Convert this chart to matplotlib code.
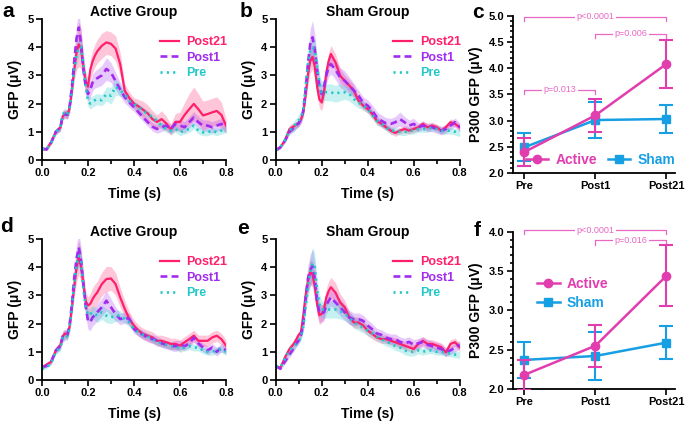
import numpy as np
import matplotlib
matplotlib.use('Agg')
import matplotlib.pyplot as plt
from matplotlib.ticker import MultipleLocator
from matplotlib.lines import Line2D

plt.rcParams['font.family'] = ['Liberation Sans', 'DejaVu Sans']
plt.rcParams['font.weight'] = 'bold'
plt.rcParams['axes.labelweight'] = 'bold'

# ---------------- data ----------------
time_s = [0.00, 0.02, 0.04, 0.06, 0.08, 0.09, 0.10, 0.11, 0.12, 0.13, 0.14, 0.15, 0.16, 0.17,
          0.18, 0.19, 0.20, 0.21, 0.22, 0.23, 0.24, 0.26, 0.28, 0.30, 0.32, 0.34, 0.36, 0.38,
          0.40, 0.42, 0.44, 0.46, 0.48, 0.50, 0.52, 0.54, 0.56, 0.58, 0.60, 0.62, 0.64, 0.66,
          0.68, 0.70, 0.72, 0.74, 0.76, 0.78, 0.80]

# Panel a : Active group (first measure)
a_post21 = [0.40, 0.38, 0.65, 1.00, 1.15, 1.55, 1.65, 1.60, 1.85, 2.50, 3.20, 3.80, 4.10, 3.95,
            3.30, 2.80, 2.60, 3.20, 3.50, 3.70, 3.85, 4.05, 4.17, 4.12, 3.95, 3.40, 2.45, 2.20,
            2.00, 1.90, 1.78, 1.65, 1.45, 1.35, 1.45, 1.30, 1.08, 1.35, 1.35, 1.60, 1.80, 1.99,
            1.80, 1.58, 1.63, 1.69, 1.74, 1.60, 1.22]
a_post21_sem = [0.05, 0.05, 0.08, 0.10, 0.12, 0.15, 0.15, 0.15, 0.20, 0.30, 0.40, 0.60, 0.80, 0.70,
                0.50, 0.35, 0.30, 0.35, 0.40, 0.40, 0.42, 0.45, 0.42, 0.42, 0.45, 0.40, 0.25, 0.20,
                0.20, 0.25, 0.30, 0.30, 0.30, 0.25, 0.30, 0.25, 0.20, 0.30, 0.35, 0.45, 0.55, 0.60,
                0.55, 0.50, 0.50, 0.50, 0.50, 0.45, 0.25]
a_post1 = [0.40, 0.38, 0.62, 1.00, 1.15, 1.60, 1.62, 1.60, 1.90, 2.60, 3.50, 4.30, 4.70, 4.10,
           3.20, 2.60, 2.34, 2.50, 2.75, 2.85, 2.90, 3.00, 3.23, 3.10, 2.80, 2.50, 2.22, 2.04,
           1.87, 1.69, 1.51, 1.34, 1.18, 1.10, 1.16, 1.22, 1.10, 1.28, 1.22, 1.16, 1.34, 1.51,
           1.34, 1.22, 1.22, 1.16, 1.22, 1.28, 1.16]
a_post1_sem = [0.04, 0.05, 0.07, 0.10, 0.12, 0.15, 0.15, 0.15, 0.20, 0.30, 0.40, 0.50, 0.55, 0.50,
               0.40, 0.30, 0.25, 0.30, 0.30, 0.30, 0.32, 0.35, 0.40, 0.35, 0.30, 0.25, 0.20, 0.18,
               0.15, 0.15, 0.15, 0.15, 0.15, 0.15, 0.15, 0.15, 0.15, 0.15, 0.20, 0.20, 0.20, 0.20,
               0.20, 0.20, 0.20, 0.20, 0.20, 0.20, 0.20]
a_pre = [0.40, 0.38, 0.62, 1.00, 1.15, 1.62, 1.70, 1.62, 1.85, 2.50, 3.20, 3.70, 4.00, 4.00,
         3.40, 2.60, 2.10, 2.00, 2.08, 2.12, 2.16, 2.12, 2.34, 2.28, 2.60, 2.46, 2.34, 2.10,
         1.99, 1.87, 1.75, 1.63, 1.51, 1.39, 1.22, 1.10, 1.04, 1.10, 0.98, 1.04, 1.10, 1.22,
         1.04, 0.98, 0.98, 1.04, 0.98, 1.04, 1.08]
a_pre_sem = [0.04, 0.05, 0.07, 0.10, 0.12, 0.15, 0.15, 0.15, 0.20, 0.25, 0.30, 0.35, 0.35, 0.35,
             0.30, 0.25, 0.20, 0.20, 0.20, 0.20, 0.20, 0.20, 0.25, 0.30, 0.30, 0.20, 0.15, 0.12,
             0.12, 0.12, 0.12, 0.12, 0.12, 0.12, 0.12, 0.12, 0.12, 0.12, 0.12, 0.12, 0.12, 0.12,
             0.12, 0.12, 0.12, 0.12, 0.12, 0.12, 0.12]

# Panel b : Sham group (first measure)
b_post21 = [0.35, 0.45, 0.70, 1.10, 1.20, 1.25, 1.30, 1.45, 1.70, 2.30, 3.00, 3.50, 3.66, 3.30,
            2.60, 2.15, 2.04, 2.40, 3.10, 3.50, 3.76, 3.46, 2.99, 2.81, 2.64, 2.46, 2.10, 1.93,
            1.81, 1.63, 1.39, 1.28, 1.16, 1.04, 0.96, 1.04, 1.10, 1.04, 1.10, 1.16, 1.28, 1.16,
            1.22, 1.16, 1.04, 1.16, 1.34, 1.28, 1.16]
b_post21_sem = [0.04, 0.05, 0.08, 0.15, 0.12, 0.12, 0.12, 0.15, 0.20, 0.30, 0.35, 0.40, 0.45, 0.40,
                0.35, 0.30, 0.30, 0.30, 0.30, 0.30, 0.30, 0.30, 0.25, 0.20, 0.20, 0.20, 0.15, 0.15,
                0.15, 0.15, 0.15, 0.12, 0.12, 0.12, 0.12, 0.12, 0.12, 0.12, 0.12, 0.12, 0.12, 0.12,
                0.12, 0.12, 0.12, 0.12, 0.12, 0.12, 0.12]
b_post1 = [0.35, 0.45, 0.68, 1.00, 1.15, 1.25, 1.30, 1.45, 1.75, 2.50, 3.40, 4.10, 4.35, 3.90,
           3.20, 2.60, 2.34, 2.60, 3.00, 3.30, 3.40, 3.20, 2.93, 2.81, 2.64, 2.46, 2.28, 2.04,
           1.93, 1.75, 1.51, 1.39, 1.30, 1.28, 1.34, 1.45, 1.34, 1.22, 1.28, 1.16, 1.22, 1.16,
           1.16, 1.10, 1.04, 1.10, 1.22, 1.34, 1.16]
b_post1_sem = [0.04, 0.05, 0.08, 0.10, 0.12, 0.12, 0.12, 0.15, 0.20, 0.30, 0.40, 0.55, 0.60, 0.55,
               0.45, 0.35, 0.30, 0.30, 0.30, 0.35, 0.35, 0.35, 0.35, 0.35, 0.30, 0.25, 0.20, 0.20,
               0.20, 0.20, 0.20, 0.20, 0.20, 0.20, 0.20, 0.25, 0.20, 0.20, 0.20, 0.15, 0.15, 0.15,
               0.15, 0.15, 0.15, 0.15, 0.15, 0.15, 0.15]
b_pre = [0.35, 0.45, 0.70, 1.05, 1.20, 1.30, 1.40, 1.50, 1.80, 2.60, 3.40, 3.85, 4.00, 3.90,
         3.30, 2.70, 2.40, 2.46, 2.40, 2.40, 2.40, 2.35, 2.40, 2.40, 2.34, 2.16, 2.04, 1.93,
         1.81, 1.60, 1.40, 1.28, 1.16, 1.04, 1.04, 1.00, 0.98, 1.04, 1.04, 1.10, 1.10, 1.10,
         1.16, 1.10, 1.04, 1.04, 1.04, 1.00, 0.95]
b_pre_sem = [0.04, 0.05, 0.08, 0.12, 0.20, 0.20, 0.20, 0.15, 0.20, 0.30, 0.35, 0.40, 0.40, 0.40,
             0.35, 0.35, 0.40, 0.35, 0.30, 0.30, 0.30, 0.30, 0.30, 0.25, 0.25, 0.20, 0.20, 0.15,
             0.15, 0.15, 0.15, 0.12, 0.12, 0.12, 0.12, 0.12, 0.12, 0.12, 0.12, 0.12, 0.12, 0.12,
             0.12, 0.12, 0.12, 0.12, 0.12, 0.12, 0.12]

# Panel d : Active group (second measure)
d_post21 = [0.45, 0.55, 0.65, 1.05, 1.25, 1.55, 1.65, 1.60, 1.90, 2.60, 3.30, 4.00, 4.35, 4.00,
            3.40, 2.80, 2.64, 2.70, 2.87, 3.00, 3.10, 3.40, 3.58, 3.60, 3.40, 2.93, 2.52, 2.16,
            1.93, 1.75, 1.63, 1.57, 1.51, 1.39, 1.39, 1.34, 1.28, 1.28, 1.22, 1.34, 1.45, 1.57,
            1.39, 1.39, 1.39, 1.51, 1.57, 1.45, 1.22]
d_post21_sem = [0.05, 0.05, 0.08, 0.10, 0.12, 0.15, 0.15, 0.15, 0.20, 0.30, 0.40, 0.55, 0.60, 0.55,
                0.45, 0.35, 0.30, 0.35, 0.40, 0.40, 0.40, 0.42, 0.45, 0.42, 0.40, 0.35, 0.30, 0.25,
                0.20, 0.20, 0.20, 0.20, 0.20, 0.20, 0.20, 0.20, 0.20, 0.20, 0.20, 0.20, 0.20, 0.20,
                0.20, 0.20, 0.20, 0.20, 0.20, 0.20, 0.20]
d_post1 = [0.45, 0.50, 0.65, 1.05, 1.20, 1.55, 1.60, 1.60, 1.95, 2.70, 3.60, 4.30, 4.70, 4.20,
           3.40, 2.60, 2.10, 2.05, 2.22, 2.30, 2.40, 2.58, 2.81, 2.58, 2.34, 2.16, 2.22, 2.16,
           1.81, 1.69, 1.60, 1.50, 1.45, 1.40, 1.30, 1.25, 1.20, 1.20, 1.25, 1.20, 1.30, 1.50,
           1.30, 1.15, 1.05, 1.15, 1.00, 1.15, 1.05]
d_post1_sem = [0.04, 0.05, 0.08, 0.10, 0.12, 0.20, 0.20, 0.15, 0.20, 0.30, 0.40, 0.50, 0.55, 0.50,
               0.40, 0.35, 0.30, 0.30, 0.30, 0.30, 0.30, 0.32, 0.35, 0.30, 0.25, 0.20, 0.20, 0.20,
               0.15, 0.15, 0.15, 0.15, 0.15, 0.15, 0.15, 0.15, 0.15, 0.20, 0.15, 0.15, 0.15, 0.15,
               0.15, 0.15, 0.15, 0.15, 0.15, 0.15, 0.15]
d_pre = [0.40, 0.45, 0.60, 1.00, 1.15, 1.50, 1.60, 1.55, 1.85, 2.60, 3.40, 4.10, 4.40, 4.20,
         3.20, 2.60, 2.30, 2.34, 2.40, 2.35, 2.28, 2.40, 2.28, 2.22, 2.28, 2.28, 2.16, 2.04,
         1.81, 1.70, 1.60, 1.55, 1.45, 1.35, 1.30, 1.25, 1.20, 1.20, 1.10, 1.15, 1.20, 1.15,
         1.15, 1.05, 1.00, 1.00, 1.05, 1.10, 1.00]
d_pre_sem = [0.04, 0.05, 0.07, 0.10, 0.12, 0.15, 0.15, 0.15, 0.20, 0.25, 0.30, 0.35, 0.40, 0.35,
             0.30, 0.25, 0.22, 0.22, 0.22, 0.25, 0.25, 0.25, 0.25, 0.22, 0.20, 0.18, 0.15, 0.15,
             0.12, 0.12, 0.12, 0.12, 0.12, 0.12, 0.12, 0.12, 0.12, 0.12, 0.12, 0.12, 0.12, 0.12,
             0.12, 0.12, 0.12, 0.12, 0.12, 0.12, 0.12]

# Panel e : Sham group (second measure)
e_post21 = [0.50, 0.42, 0.80, 1.10, 1.30, 1.45, 1.60, 1.70, 2.30, 3.00, 3.50, 3.82, 3.75, 3.30,
            2.70, 2.30, 2.35, 2.50, 2.93, 3.15, 3.29, 3.10, 2.75, 2.58, 2.22, 2.04, 2.04, 1.93,
            1.75, 1.63, 1.51, 1.45, 1.45, 1.39, 1.34, 1.28, 1.22, 1.16, 1.10, 1.28, 1.39, 1.28,
            1.28, 1.22, 1.16, 0.98, 1.28, 1.34, 1.16]
e_post21_sem = [0.05, 0.05, 0.08, 0.12, 0.12, 0.12, 0.12, 0.15, 0.25, 0.35, 0.40, 0.45, 0.45, 0.45,
                0.40, 0.35, 0.30, 0.30, 0.32, 0.35, 0.35, 0.35, 0.30, 0.25, 0.20, 0.20, 0.20, 0.18,
                0.18, 0.18, 0.15, 0.15, 0.15, 0.15, 0.15, 0.15, 0.15, 0.15, 0.15, 0.15, 0.15, 0.15,
                0.15, 0.15, 0.15, 0.15, 0.15, 0.15, 0.15]
e_post1 = [0.50, 0.40, 0.65, 0.90, 1.15, 1.30, 1.40, 1.60, 2.00, 2.90, 3.60, 3.90, 4.05, 3.60,
           2.80, 2.40, 2.35, 2.40, 2.65, 2.80, 2.93, 2.75, 2.58, 2.40, 2.22, 2.15, 2.16, 2.10,
           1.93, 1.80, 1.65, 1.60, 1.50, 1.45, 1.45, 1.35, 1.30, 1.35, 1.25, 1.30, 1.35, 1.25,
           1.20, 1.15, 1.10, 1.00, 1.05, 1.15, 1.25]
e_post1_sem = [0.05, 0.05, 0.08, 0.10, 0.12, 0.12, 0.12, 0.15, 0.25, 0.35, 0.45, 0.55, 0.60, 0.55,
               0.45, 0.35, 0.30, 0.30, 0.30, 0.30, 0.30, 0.30, 0.30, 0.28, 0.25, 0.22, 0.22, 0.20,
               0.20, 0.20, 0.18, 0.18, 0.18, 0.18, 0.18, 0.18, 0.18, 0.18, 0.18, 0.18, 0.18, 0.18,
               0.18, 0.18, 0.18, 0.15, 0.15, 0.15, 0.15]
e_pre = [0.50, 0.45, 0.75, 1.05, 1.20, 1.30, 1.40, 1.55, 1.90, 2.60, 3.30, 3.80, 4.15, 4.00,
         3.20, 2.70, 2.50, 2.50, 2.50, 2.50, 2.50, 2.50, 2.45, 2.35, 2.20, 2.05, 1.95, 1.85,
         1.75, 1.65, 1.55, 1.45, 1.35, 1.30, 1.20, 1.15, 1.05, 1.00, 1.00, 1.05, 1.00, 1.05,
         1.05, 1.00, 1.00, 0.95, 0.95, 0.90, 0.90]
e_pre_sem = [0.05, 0.05, 0.08, 0.12, 0.12, 0.12, 0.12, 0.15, 0.20, 0.30, 0.40, 0.50, 0.55, 0.50,
             0.40, 0.35, 0.30, 0.30, 0.30, 0.30, 0.30, 0.30, 0.28, 0.25, 0.22, 0.20, 0.20, 0.18,
             0.18, 0.15, 0.15, 0.15, 0.15, 0.15, 0.15, 0.15, 0.15, 0.15, 0.15, 0.12, 0.12, 0.12,
             0.12, 0.12, 0.12, 0.12, 0.12, 0.12, 0.12]

# Panels c / f : P300 GFP summary
sessions = ['Pre', 'Post1', 'Post21']
c_active = [2.40, 3.10, 4.08]
c_active_err = [0.27, 0.32, 0.45]
c_sham = [2.49, 3.01, 3.03]
c_sham_err = [0.27, 0.35, 0.27]
f_active = [2.18, 2.55, 3.44]
f_active_err = [0.19, 0.27, 0.39]
f_sham = [2.37, 2.42, 2.59]
f_sham_err = [0.23, 0.31, 0.21]
c_pvals = [(0, 2, 4.98, 'p<0.0001'), (1, 2, 4.66, 'p=0.006'), (0, 1, 3.59, 'p=0.013')]
f_pvals = [(0, 2, 4.02, 'p<0.0001'), (1, 2, 3.89, 'p=0.016')]

# ---------------- style ----------------
C_POST21 = '#FF1F6A'
C_POST1 = '#A22BF0'
C_PRE = '#22C8C8'
C_ACTIVE = '#E23DAE'
C_SHAM = '#179FE3'
C_P = '#E868C4'

W, H = 685, 423
fig = plt.figure(figsize=(W / 100, H / 100), dpi=100)


def fx(px):
    return px / W


def fy(py):
    return 1 - py / H


def style_axes(ax):
    for s in ['top', 'right']:
        ax.spines[s].set_visible(False)
    for s in ['left', 'bottom']:
        ax.spines[s].set_linewidth(1.3)
    ax.tick_params(axis='both', which='both', direction='out', width=1.2, labelsize=8)
    ax.tick_params(axis='both', which='major', length=4, pad=2)
    ax.tick_params(axis='both', which='minor', length=3)
    for lab in ax.get_xticklabels() + ax.get_yticklabels():
        lab.set_fontweight('bold')


def ts_panel(rect, title, post21, post21_sem, post1, post1_sem, pre, pre_sem):
    ax = fig.add_axes(rect)
    t = np.array(time_s)
    series = [
        (post21, post21_sem, C_POST21, '-', 'Post21'),
        (post1, post1_sem, C_POST1, (0, (2.6, 1.6)), 'Post1'),
        (pre, pre_sem, C_PRE, (0, (0.8, 1.6)), 'Pre'),
    ]
    for y, se, col, ls, lab in series:
        y = np.array(y)
        se = np.array(se)
        ax.fill_between(t, y - se, y + se, color=col, alpha=0.25, lw=0)
    handles = []
    for y, se, col, ls, lab in series:
        lw = 1.6 if lab == 'Post21' else 1.9
        ln, = ax.plot(t, y, color=col, lw=lw, ls=ls, label=lab)
        handles.append(ln)
    ax.set_xlim(0, 0.8)
    ax.set_ylim(0, 5)
    ax.xaxis.set_major_locator(MultipleLocator(0.2))
    ax.xaxis.set_minor_locator(MultipleLocator(0.1))
    ax.yaxis.set_major_locator(MultipleLocator(1))
    ax.xaxis.set_major_formatter(matplotlib.ticker.FormatStrFormatter('%.1f'))
    style_axes(ax)
    ax.set_xlabel('Time (s)', fontsize=10, fontweight='bold', labelpad=6)
    ax.set_ylabel('GFP (μV)', fontsize=10, fontweight='bold', labelpad=4)
    ax.set_title(title, fontsize=10, fontweight='bold', pad=1)
    leg = ax.legend(handles=handles, loc='upper left', bbox_to_anchor=(0.64, 0.88),
                    frameon=False, fontsize=9, handlelength=1.5, handletextpad=0.6,
                    labelspacing=0.3, borderpad=0, borderaxespad=0)
    for txt, ln in zip(leg.get_texts(), handles):
        txt.set_color(ln.get_color())
        txt.set_fontweight('bold')
    return ax


def summary_panel(rect, ylim, yticks, active, active_err, sham, sham_err, pvals, legend_kw):
    ax = fig.add_axes(rect)
    x = np.arange(len(sessions))
    ax.errorbar(x, active, yerr=active_err, color=C_ACTIVE, marker='o', ms=6, lw=1.8,
                elinewidth=1.5, capsize=5, capthick=1.5, zorder=3)
    ax.errorbar(x, sham, yerr=sham_err, color=C_SHAM, marker='s', ms=6, lw=1.8,
                elinewidth=1.5, capsize=5, capthick=1.5, zorder=2)
    ha = Line2D([], [], color=C_ACTIVE, marker='o', ms=6, lw=1.8, label='Active')
    hs = Line2D([], [], color=C_SHAM, marker='s', ms=6, lw=1.8, label='Sham')
    ax.set_xlim(-0.16, 2.12)
    ax.set_ylim(*ylim)
    ax.set_yticks(yticks)
    ax.set_yticklabels(['%.1f' % v for v in yticks])
    ax.set_xticks(x)
    ax.set_xticklabels(sessions)
    ax.yaxis.set_minor_locator(MultipleLocator(0.1))
    style_axes(ax)
    ax.tick_params(axis='y', which='minor', length=2)
    ax.set_ylabel('P300 GFP (μV)', fontsize=10, fontweight='bold', labelpad=4)
    span = ylim[1] - ylim[0]
    drop = span * 0.027
    for x0, x1, yb, txt in pvals:
        ax.plot([x0, x0, x1, x1], [yb - drop, yb, yb, yb - drop], color=C_P, lw=0.9,
                clip_on=False, zorder=1)
        ax.text((x0 + x1) / 2, yb, txt, color=C_P, fontsize=6.5, fontweight='normal',
                ha='center', va='center', clip_on=False, zorder=2,
                bbox=dict(facecolor='white', edgecolor='none', pad=1.0))
    leg = ax.legend(handles=[ha, hs], frameon=False, fontsize=10, handlelength=1.6,
                    handletextpad=0.5, borderpad=0, borderaxespad=0, **legend_kw)
    for txt, col in zip(leg.get_texts(), [C_ACTIVE, C_SHAM]):
        txt.set_color(col)
        txt.set_fontweight('bold')
    return ax


# time-series panels
axw = fx(184)
axh = fy(19) - fy(160)
ts_panel([fx(42), fy(160), axw, axh], 'Active Group', a_post21, a_post21_sem, a_post1, a_post1_sem, a_pre, a_pre_sem)
ts_panel([fx(275.7), fy(160), axw, axh], 'Sham Group', b_post21, b_post21_sem, b_post1, b_post1_sem, b_pre, b_pre_sem)
ts_panel([fx(42), fy(380), axw, axh], 'Active Group', d_post21, d_post21_sem, d_post1, d_post1_sem, d_pre, d_pre_sem)
ts_panel([fx(275.7), fy(380), axw, axh], 'Sham Group', e_post21, e_post21_sem, e_post1, e_post1_sem, e_pre, e_pre_sem)

# summary panels
summary_panel([fx(513), fy(173), fx(162), fy(15.7) - fy(173)], (2.0, 5.0),
              [2.0, 2.5, 3.0, 3.5, 4.0, 4.5, 5.0], c_active, c_active_err, c_sham, c_sham_err,
              c_pvals, dict(loc='lower right', bbox_to_anchor=(1.0, 0.04), ncol=2, columnspacing=0.8))
summary_panel([fx(513), fy(389), fx(162), fy(231.7) - fy(389)], (2.0, 4.0),
              [2.0, 2.5, 3.0, 3.5, 4.0], f_active, f_active_err, f_sham, f_sham_err,
              f_pvals, dict(loc='upper left', bbox_to_anchor=(0.15, 0.71), ncol=1, labelspacing=0.35))

# panel letters
for letter, px, py in [('a', 2, 17), ('b', 240, 17), ('c', 472, 18),
                       ('d', 0, 232), ('e', 237, 234), ('f', 474, 236)]:
    fig.text(fx(px), fy(py), letter, fontsize=15, fontweight='bold', ha='left', va='baseline')

fig.savefig('out.png', dpi=100)
